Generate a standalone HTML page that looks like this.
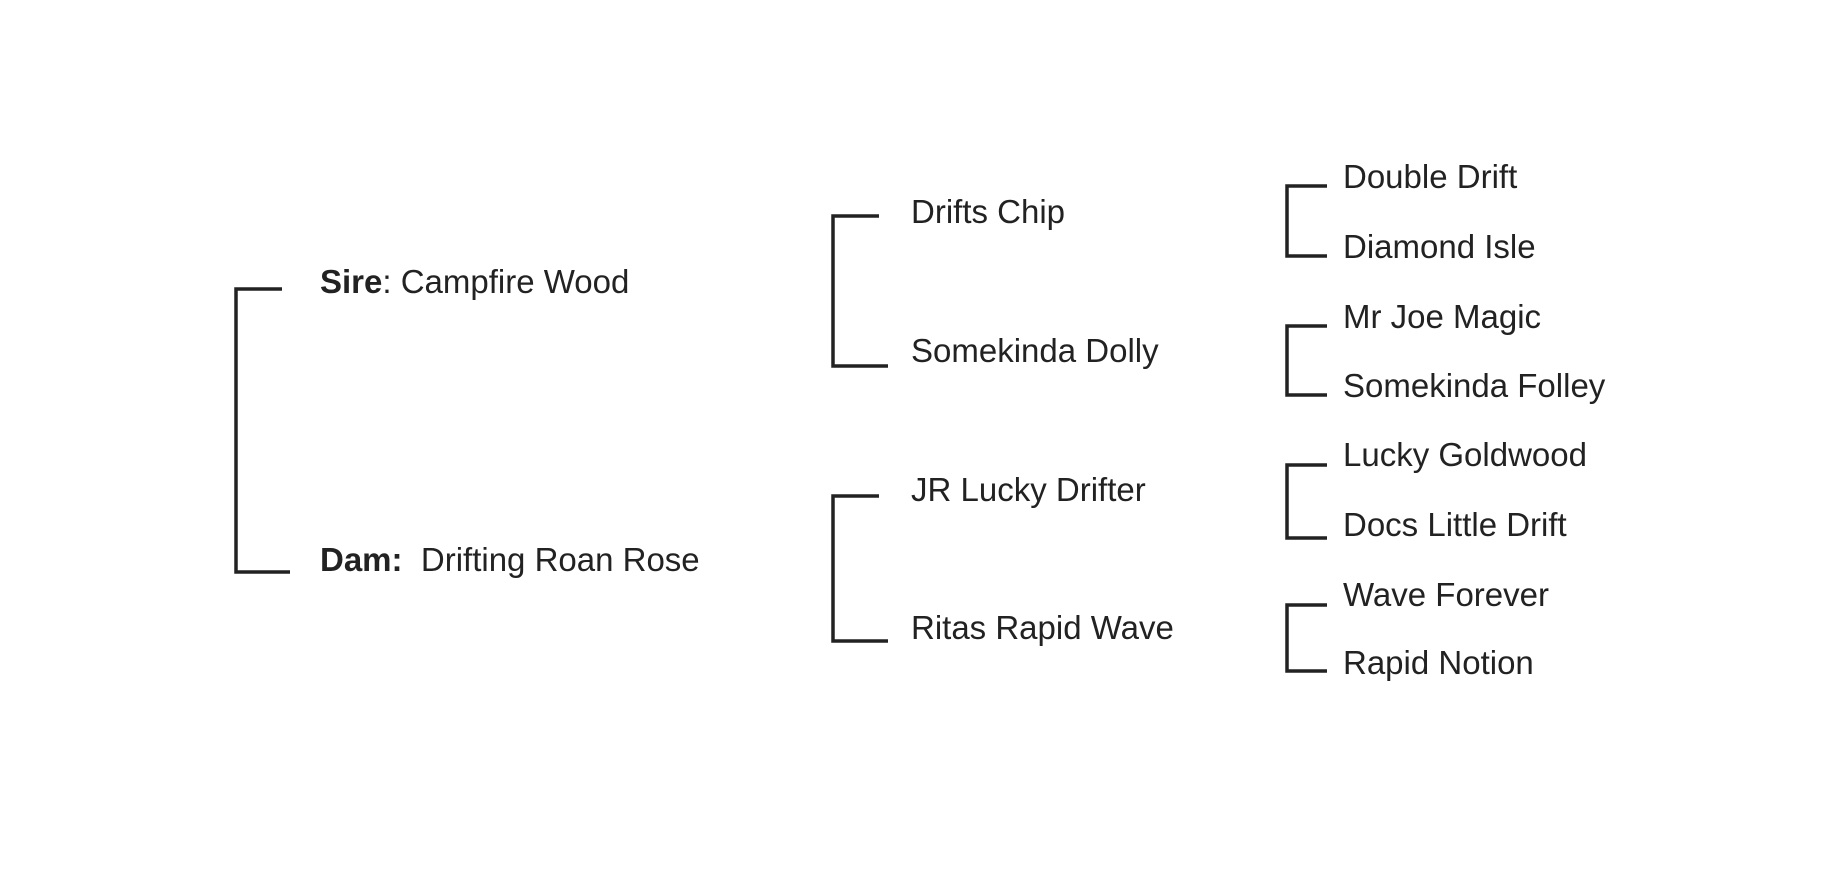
<!DOCTYPE html>
<html><head><meta charset="utf-8"><style>
html,body{margin:0;padding:0;background:#fff;}
body{width:1822px;height:886px;position:relative;overflow:hidden;font-family:"Liberation Sans",sans-serif;color:#222;}
.t{position:absolute;font-size:33px;line-height:40px;white-space:nowrap;transform:translateY(-50%);}
svg{position:absolute;left:0;top:0;}
</style></head><body>
<svg width="1822" height="886" fill="none" stroke="#222" stroke-width="3.5">
<polyline points="282,289 236,289 236,572 290,572"/>
<polyline points="879,216 833,216 833,366 888,366"/>
<polyline points="879,496 833,496 833,641 888,641"/>
<polyline points="1327,186 1287,186 1287,256 1327,256"/>
<polyline points="1327,326 1287,326 1287,395 1327,395"/>
<polyline points="1327,465 1287,465 1287,538 1327,538"/>
<polyline points="1327,605 1287,605 1287,671 1327,671"/>
</svg>
<div class="t" style="left:320px;top:282px"><b>Sire</b>: Campfire Wood</div>
<div class="t" style="left:320px;top:560px"><b>Dam:</b>&nbsp; Drifting Roan Rose</div>
<div class="t" style="left:911px;top:212px">Drifts Chip</div>
<div class="t" style="left:911px;top:351px">Somekinda Dolly</div>
<div class="t" style="left:911px;top:490px">JR Lucky Drifter</div>
<div class="t" style="left:911px;top:628px">Ritas Rapid Wave</div>
<div class="t" style="left:1343px;top:177px">Double Drift</div>
<div class="t" style="left:1343px;top:247px">Diamond Isle</div>
<div class="t" style="left:1343px;top:317px">Mr Joe Magic</div>
<div class="t" style="left:1343px;top:386px">Somekinda Folley</div>
<div class="t" style="left:1343px;top:455px">Lucky Goldwood</div>
<div class="t" style="left:1343px;top:525px">Docs Little Drift</div>
<div class="t" style="left:1343px;top:595px">Wave Forever</div>
<div class="t" style="left:1343px;top:663px">Rapid Notion</div>
</body></html>
